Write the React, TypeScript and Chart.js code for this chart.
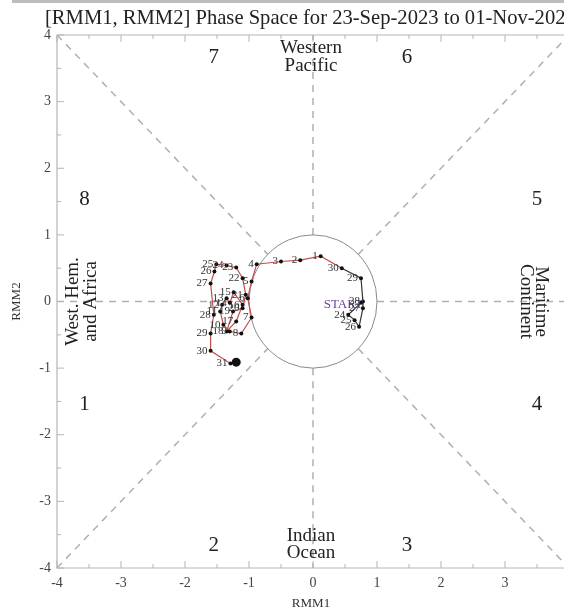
import React, { useEffect, useRef } from "react";
import { Chart, registerables } from "chart.js";

Chart.register(...registerables);

const TITLE = "[RMM1, RMM2] Phase Space for 23-Sep-2023 to 01-Nov-2023";

// Daily RMM values, 23-Sep-2023 .. 01-Nov-2023
const dayLabels = [
  "START", "24", "25", "26", "27", "28", "29", "30",
  "1", "2", "3", "4", "5", "6", "7", "8", "9", "10", "11", "12", "13", "14", "15", "16",
  "17", "18", "19", "20", "21", "22", "23", "24", "25", "26", "27", "28", "29", "30", "31", "1",
];
const rmm1 = [
  0.75, 0.55, 0.65, 0.72, 0.78, 0.78, 0.75, 0.45,
  0.12, -0.2, -0.5, -0.88, -0.96, -1.02, -0.96, -1.12, -1.3, -1.4, -1.45, -1.42, -1.35, -1.3, -1.24, -1.1,
  -1.2, -1.35, -1.25, -1.1, -1.05, -1.1, -1.2, -1.35, -1.51, -1.54, -1.6, -1.55, -1.6, -1.6, -1.29, -1.2,
];
const rmm2 = [
  -0.02, -0.2, -0.28, -0.38, -0.1, 0.0, 0.35, 0.5,
  0.68, 0.62, 0.6, 0.56, 0.3, 0.05, -0.24, -0.48, -0.45, -0.35, -0.15, -0.05, 0.05, -0.02, 0.14, -0.05,
  -0.3, -0.45, -0.15, -0.1, 0.1, 0.35, 0.51, 0.54, 0.56, 0.45, 0.27, -0.2, -0.48, -0.74, -0.93, -0.91,
];
const octStartIndex = 8;

const xTicks = [-4, -3, -2, -1, 0, 1, 2, 3];
const yTicks = [-4, -3, -2, -1, 0, 1, 2, 3, 4];

const phaseNumbers = ["1", "2", "3", "4", "5", "6", "7", "8"];
const phaseX = [-3.57, -1.55, 1.47, 3.5, 3.5, 1.47, -1.55, -3.57];
const phaseY = [-1.55, -3.66, -3.66, -1.55, 1.53, 3.67, 3.67, 1.53];

const SERIF = "'Liberation Serif', 'DejaVu Serif', serif";

const overlayPlugin = {
  id: "mjoOverlay",
  beforeDatasetsDraw(chart: any) {
    const { ctx, chartArea: a, scales } = chart;
    const xs = scales.x;
    const ys = scales.y;
    const px = (v: number) => xs.getPixelForValue(v);
    const py = (v: number) => ys.getPixelForValue(v);
    ctx.save();

    // dashed phase dividers
    ctx.strokeStyle = "#b0b0b0";
    ctx.lineWidth = 1.5;
    ctx.setLineDash([7, 6]);
    const r = Math.SQRT1_2;
    const segs: number[][] = [
      [-4, -4, -r, -r], [r, r, 4, 4], [-4, 4, -r, r], [r, -r, 4, -4],
      [-4, 0, -1, 0], [1, 0, 4, 0], [0, 1, 0, 4], [0, -1, 0, -4],
    ];
    segs.forEach(([x1, y1, x2, y2]) => {
      ctx.beginPath();
      ctx.moveTo(px(x1), py(y1));
      ctx.lineTo(px(x2), py(y2));
      ctx.stroke();
    });
    ctx.setLineDash([]);

    // unit circle
    ctx.strokeStyle = "#8a8a8a";
    ctx.lineWidth = 1;
    ctx.beginPath();
    ctx.ellipse(px(0), py(0), px(1) - px(0), py(0) - py(1), 0, 0, Math.PI * 2);
    ctx.stroke();

    // axes frame
    ctx.strokeStyle = "#b5b5b5";
    ctx.lineWidth = 1.2;
    ctx.beginPath();
    ctx.moveTo(a.left, a.top);
    ctx.lineTo(a.left, a.bottom);
    ctx.lineTo(a.right, a.bottom);
    ctx.moveTo(a.left, a.top);
    ctx.lineTo(a.right, a.top);
    ctx.moveTo(a.right, a.top);
    ctx.lineTo(a.right, a.bottom);
    ctx.stroke();

    // inward ticks
    ctx.lineWidth = 1;
    for (let v = -4; v <= 4.001; v += 0.5) {
      const major = Math.abs(v - Math.round(v)) < 1e-6;
      const len = major ? 7 : 4;
      const x = px(v);
      ctx.beginPath();
      ctx.moveTo(x, a.bottom);
      ctx.lineTo(x, a.bottom - len);
      ctx.moveTo(x, a.top);
      ctx.lineTo(x, a.top + len);
      const y = py(v);
      ctx.moveTo(a.left, y);
      ctx.lineTo(a.left + len, y);
      ctx.stroke();
    }

    // tick labels
    ctx.fillStyle = "#444";
    ctx.font = `14px ${SERIF}`;
    ctx.textAlign = "center";
    ctx.textBaseline = "middle";
    xTicks.forEach((t) => ctx.fillText(String(t), px(t), a.bottom + 15));
    ctx.textAlign = "right";
    yTicks.forEach((t) => ctx.fillText(String(t), a.left - 6, py(t)));

    // axis titles
    ctx.fillStyle = "#333";
    ctx.font = `13px ${SERIF}`;
    ctx.textAlign = "center";
    ctx.fillText("RMM1", px(0) - 2, a.bottom + 36);
    ctx.save();
    ctx.translate(17, py(0));
    ctx.rotate(-Math.PI / 2);
    ctx.fillText("RMM2", 0, 0);
    ctx.restore();

    // title
    ctx.fillStyle = "#222";
    ctx.font = `20.6px ${SERIF}`;
    ctx.textAlign = "left";
    ctx.textBaseline = "alphabetic";
    ctx.fillText(TITLE, 45, 24);

    // phase numbers
    ctx.fillStyle = "#222";
    ctx.font = `21px ${SERIF}`;
    ctx.textAlign = "center";
    ctx.textBaseline = "middle";
    phaseNumbers.forEach((n, i) => ctx.fillText(n, px(phaseX[i]), py(phaseY[i])));

    // region names
    ctx.font = `19px ${SERIF}`;
    ctx.fillText("Western", px(0) - 2, 48);
    ctx.fillText("Pacific", px(0) - 2, 66);
    ctx.fillText("Indian", px(0) - 2, 536);
    ctx.fillText("Ocean", px(0) - 2, 553);

    ctx.save();
    ctx.translate(73, py(0));
    ctx.rotate(-Math.PI / 2);
    ctx.fillText("West. Hem.", 0, 0);
    ctx.fillText("and Africa", 0, 18);
    ctx.restore();

    ctx.save();
    ctx.translate(541, py(0));
    ctx.rotate(Math.PI / 2);
    ctx.fillText("Maritime", 0, 0);
    ctx.fillText("Continent", 0, 15);
    ctx.restore();

    ctx.restore();
  },
  afterDatasetsDraw(chart: any) {
    const { ctx, scales } = chart;
    const xs = scales.x;
    const ys = scales.y;
    ctx.save();
    ctx.textAlign = "right";
    ctx.textBaseline = "middle";
    dayLabels.forEach((lab, i) => {
      if (i === dayLabels.length - 1) return;
      const x = xs.getPixelForValue(rmm1[i]);
      const y = ys.getPixelForValue(rmm2[i]);
      if (i === 0) {
        ctx.fillStyle = "#6a3f9e";
        ctx.font = `13px ${SERIF}`;
        ctx.fillText(lab, x + 2, y + 2);
      } else {
        ctx.fillStyle = "#333";
        ctx.font = `11px ${SERIF}`;
        ctx.fillText(lab, x - 3, y);
      }
    });
    ctx.restore();
  },
};

export default function App() {
  const ref = useRef<HTMLCanvasElement | null>(null);

  useEffect(() => {
    if (!ref.current) return;
    const points = rmm1.map((x, i) => ({ x, y: rmm2[i] }));
    const last = points.length - 1;
    const chart = new Chart(ref.current, {
      type: "scatter",
      data: {
        datasets: [
          {
            data: points,
            showLine: true,
            borderWidth: 1.2,
            borderColor: "#c0504d",
            segment: {
              borderColor: (c: any) => (c.p1DataIndex >= octStartIndex ? "#c0504d" : "#333"),
            },
            pointRadius: (c: any) => (c.dataIndex === last ? 4.5 : 2),
            pointBackgroundColor: "#111",
            pointBorderColor: "#111",
            pointBorderWidth: 0,
          },
        ],
      },
      options: {
        responsive: false,
        animation: false,
        events: [],
        layout: { padding: { left: 57, top: 35, right: 21, bottom: 43 } },
        plugins: { legend: { display: false }, tooltip: { enabled: false }, title: { display: false } },
        scales: {
          x: { type: "linear", min: -4, max: 4, display: false },
          y: { type: "linear", min: -4, max: 4, display: false },
        },
      },
      plugins: [overlayPlugin],
    });
    return () => chart.destroy();
  }, []);

  return (
    <div style={{ position: "fixed", left: 0, top: 0, width: 564, height: 611, overflow: "hidden", background: "#fff" }}>
      <div style={{ position: "absolute", left: 12, top: 0, width: 552, height: 3, background: "#bdbdbd" }} />
      <canvas ref={ref} width={590} height={611} style={{ display: "block" }} />
    </div>
  );
}
